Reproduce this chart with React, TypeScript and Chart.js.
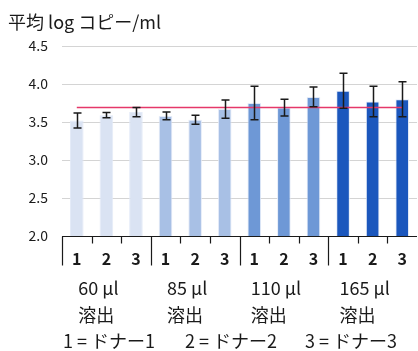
import { useEffect, useRef } from 'react';
import { Chart, registerables } from 'chart.js';

Chart.register(...registerables);

// Donor index under each bar, elution volume per group of three bars
const donorLabels = ['1', '2', '3', '1', '2', '3', '1', '2', '3', '1', '2', '3'];
const volumeLabels = ['60 µl', '85 µl', '110 µl', '165 µl'];
const elutionLabel = '溶出';
const donorKey = ['1 = ドナー1', '2 = ドナー2', '3 = ドナー3'];
const titleText = '平均 log コピー/ml';

// Mean log copies/ml and standard deviation per bar
const meanLog = [3.52, 3.59, 3.63, 3.58, 3.53, 3.67, 3.75, 3.69, 3.83, 3.91, 3.77, 3.80];
const sdLog = [0.10, 0.035, 0.06, 0.05, 0.06, 0.12, 0.22, 0.11, 0.13, 0.23, 0.20, 0.23];
const referenceLog = 3.69;

const groupColors = ['#dae3f3', '#a8c0e5', '#6e98d6', '#1b57bd'];
const yMin = 2.0;
const yMax = 4.5;
const yStep = 0.5;

const FONT = "'Noto Sans CJK JP', 'Noto Sans', sans-serif";

export default function App() {
  const canvasRef = useRef<HTMLCanvasElement | null>(null);

  useEffect(() => {
    const canvas = canvasRef.current;
    if (!canvas) return;

    const barColors = donorLabels.map((_, i) => groupColors[Math.floor(i / 3)]);

    const errorBars = {
      id: 'errorBars',
      afterDatasetsDraw(chart: any) {
        const { ctx } = chart;
        const x = chart.scales.x;
        const y = chart.scales.y;
        ctx.save();
        ctx.strokeStyle = '#1a1a1a';
        ctx.lineWidth = 1.5;
        meanLog.forEach((m, i) => {
          const cx = Math.round(x.getPixelForValue(i)) + 0.5;
          const top = y.getPixelForValue(m + sdLog[i]);
          const bot = y.getPixelForValue(m - sdLog[i]);
          ctx.beginPath();
          ctx.moveTo(cx, top);
          ctx.lineTo(cx, bot);
          ctx.moveTo(cx - 4, top);
          ctx.lineTo(cx + 4, top);
          ctx.moveTo(cx - 4, bot);
          ctx.lineTo(cx + 4, bot);
          ctx.stroke();
        });
        ctx.restore();
      },
    };

    const axisDecor = {
      id: 'axisDecor',
      afterDraw(chart: any) {
        const { ctx, chartArea } = chart;
        const x = chart.scales.x;
        const n = donorLabels.length;
        const catW = (chartArea.right - chartArea.left) / n;
        const base = Math.round(chartArea.bottom) + 0.5;
        ctx.save();

        // title
        ctx.fillStyle = '#1a1a1a';
        ctx.font = `18px ${FONT}`;
        ctx.textAlign = 'left';
        ctx.textBaseline = 'middle';
        ctx.fillText(titleText, 8, 22);

        // baseline
        ctx.strokeStyle = '#1a1a1a';
        ctx.lineWidth = 1.2;
        ctx.beginPath();
        ctx.moveTo(chartArea.left, base);
        ctx.lineTo(chartArea.right, base);
        ctx.stroke();

        // group separators and minor ticks
        for (let i = 0; i < n; i++) {
          const ex = Math.round(x.getPixelForValue(i) - catW / 2) + 0.5;
          ctx.beginPath();
          ctx.moveTo(ex, base);
          ctx.lineTo(ex, base + (i % 3 === 0 ? 29 : 7));
          ctx.stroke();
        }

        // donor numbers
        ctx.font = `bold 16px ${FONT}`;
        ctx.textAlign = 'center';
        donorLabels.forEach((lab, i) => {
          ctx.fillText(lab, x.getPixelForValue(i), base + 22);
        });

        // volume / elution labels, left-aligned block per group
        ctx.font = `18px ${FONT}`;
        ctx.textAlign = 'left';
        volumeLabels.forEach((vol, g) => {
          const cx = x.getPixelForValue(g * 3 + 1) - 8;
          const w = Math.max(ctx.measureText(vol).width, ctx.measureText(elutionLabel).width);
          const lx = cx - w / 2;
          ctx.fillText(vol, lx, base + 52);
          ctx.fillText(elutionLabel, lx, base + 79);
        });

        // donor key
        const keyX = [chartArea.left + 1, chartArea.left + 123, chartArea.left + 243];
        donorKey.forEach((t, k) => {
          ctx.fillText(t, keyX[k], base + 105);
        });

        ctx.restore();
      },
    };

    const chart = new Chart(canvas, {
      type: 'bar',
      data: {
        labels: donorLabels,
        datasets: [
          {
            type: 'line',
            data: donorLabels.map(() => referenceLog),
            borderColor: '#e5386a',
            borderWidth: 1.5,
            pointRadius: 0,
            fill: false,
            order: 0,
          } as any,
          {
            type: 'bar',
            data: meanLog,
            backgroundColor: barColors,
            borderColor: 'rgba(225,233,247,0.9)',
            borderWidth: 1,
            barPercentage: 0.46,
            categoryPercentage: 1,
            order: 1,
          },
        ],
      },
      options: {
        responsive: false,
        animation: false,
        events: [],
        layout: { padding: { top: 46, left: 0, right: 1, bottom: 115 } },
        plugins: {
          legend: { display: false },
          tooltip: { enabled: false },
          title: { display: false },
        },
        scales: {
          x: {
            type: 'category',
            display: false,
            offset: true,
          },
          y: {
            min: yMin,
            max: yMax,
            border: { display: false },
            grid: { color: '#d4d4d4', lineWidth: 1, drawTicks: false },
            ticks: {
              stepSize: yStep,
              padding: 14,
              color: '#1a1a1a',
              font: { family: FONT, size: 14 },
              callback: (v: any) => Number(v).toFixed(1),
            },
            afterFit(scale: any) {
              scale.width = 62;
            },
          },
        },
      },
      plugins: [errorBars, axisDecor],
    });

    return () => chart.destroy();
  }, []);

  return (
    <div style={{ position: 'fixed', left: 0, top: 0, width: 418, height: 351, background: '#fff' }}>
      <canvas ref={canvasRef} width={418} height={351} />
    </div>
  );
}
